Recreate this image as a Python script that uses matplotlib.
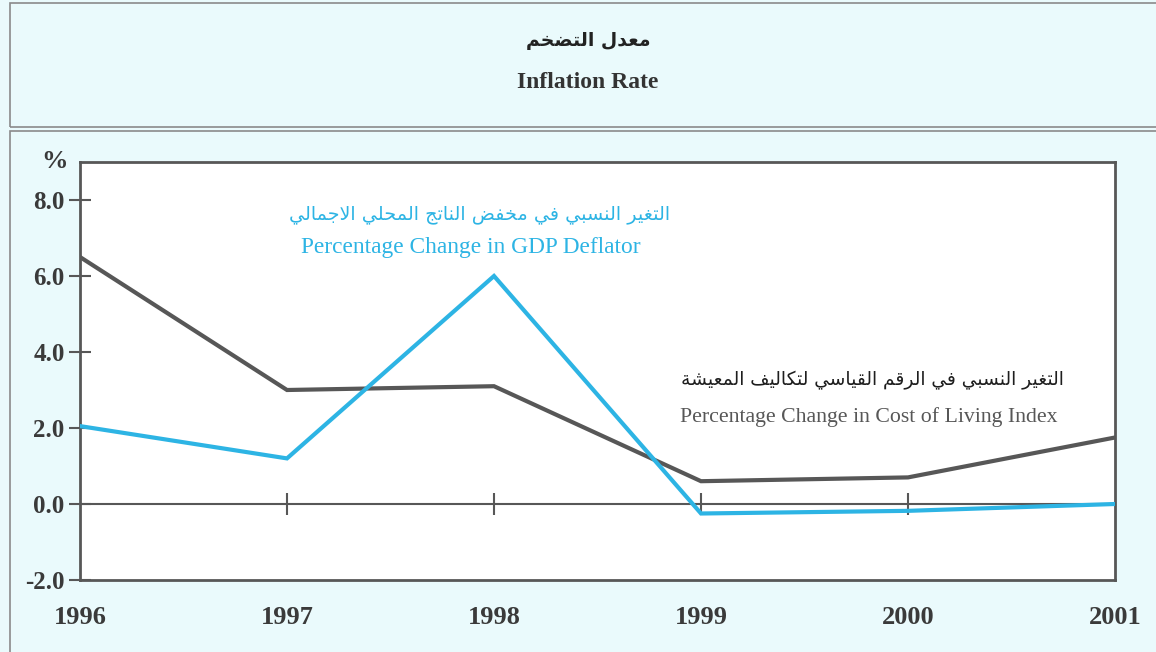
import matplotlib
matplotlib.use("Agg")
import matplotlib.pyplot as plt
from matplotlib.patches import Rectangle

years = [1996, 1997, 1998, 1999, 2000, 2001]
cost_of_living = [6.5, 3.0, 3.1, 0.6, 0.7, 1.75]
gdp_deflator = [2.05, 1.2, 6.0, -0.25, -0.18, 0.0]
y_ticks = [-2.0, 0.0, 2.0, 4.0, 6.0, 8.0]

title_ar = "معدل التضخم"
title_en = "Inflation Rate"
gdp_ar = "التغير النسبي في مخفض الناتج المحلي الاجمالي"
gdp_en = "Percentage Change in GDP Deflator"
col_ar = "التغير النسبي في الرقم القياسي لتكاليف المعيشة"
col_en = "Percentage Change in Cost of Living Index"

BG = "#eafafc"
CYAN = "#2db4e4"
GREY = "#575757"
TXT = "#3a3a3a"

# presentation forms: (isolated codepoint, number of forms)
FORMS = {
    "ا": (0xFE8D, 2), "ب": (0xFE8F, 4), "ة": (0xFE93, 2), "ت": (0xFE95, 4),
    "ج": (0xFE9D, 4), "ح": (0xFEA1, 4), "خ": (0xFEA5, 4), "د": (0xFEA9, 2),
    "ر": (0xFEAD, 2), "س": (0xFEB1, 4), "ش": (0xFEB5, 4), "ض": (0xFEBD, 4),
    "ع": (0xFEC9, 4), "غ": (0xFECD, 4), "ف": (0xFED1, 4), "ق": (0xFED5, 4),
    "ك": (0xFED9, 4), "ل": (0xFEDD, 4), "م": (0xFEE1, 4), "ن": (0xFEE5, 4),
    "ه": (0xFEE9, 4), "و": (0xFEED, 2), "ى": (0xFEEF, 2), "ي": (0xFEF1, 4),
    "LA": (0xFEFB, 2),
}


def shape(text):
    # matplotlib 3.10 has no arabic shaping, so do joining + reversal by hand
    tokens, i = [], 0
    while i < len(text):
        if text[i] == "ل" and i + 1 < len(text) and text[i + 1] == "ا":
            tokens.append("LA")
            i += 2
        else:
            tokens.append(text[i])
            i += 1
    out = []
    for k, t in enumerate(tokens):
        f = FORMS.get(t)
        if f is None:
            out.append(t)
            continue
        prev = FORMS.get(tokens[k - 1]) if k > 0 else None
        nxt = FORMS.get(tokens[k + 1]) if k + 1 < len(tokens) else None
        jp = prev is not None and prev[1] == 4
        jn = f[1] == 4 and nxt is not None
        off = 3 if (jp and jn) else 1 if jp else 2 if jn else 0
        out.append(chr(f[0] + off))
    return "".join(reversed(out))


W, H = 1156, 652
fig = plt.figure(figsize=(W / 100, H / 100), dpi=100, facecolor=BG)

# title box and chart panel frames
fig.patches.append(Rectangle((10 / W, 1 - 127 / H), 1.2, 124 / H, transform=fig.transFigure,
                             fill=False, edgecolor="#8a8a8a", linewidth=1.2))
fig.patches.append(Rectangle((10 / W, -0.1), 1.2, 1 - 131 / H + 0.1, transform=fig.transFigure,
                             fill=False, edgecolor="#8a8a8a", linewidth=1.2))

fig.text(588 / W, 1 - 40 / H, shape(title_ar), ha="center", va="center",
         family="DejaVu Sans", fontweight="bold", fontsize=13.5, color="#222222")
fig.text(588 / W, 1 - 82 / H, title_en, ha="center", va="center",
         family="Liberation Serif", fontweight="bold", fontsize=17, color="#333333")

ax = fig.add_axes([80 / W, (H - 580) / H, (1115 - 80) / W, (580 - 162) / H])
ax.set_facecolor("white")
ax.set_xlim(years[0], years[-1])
ax.set_ylim(-2, 9)

ax.axhline(0, color=GREY, linewidth=1.5, zorder=1)
ax.plot(years[1:-1], [0] * (len(years) - 2), linestyle="none", marker="|",
        markersize=16, markeredgewidth=1.5, color=GREY, zorder=1)
ax.plot(years, cost_of_living, color=GREY, linewidth=3, solid_joinstyle="miter", zorder=2)
ax.plot(years, gdp_deflator, color=CYAN, linewidth=3, solid_joinstyle="miter", zorder=3)

for s in ax.spines.values():
    s.set_color(GREY)
    s.set_linewidth(2)

ax.set_yticks(y_ticks)
ax.set_yticklabels([f"{v:.1f}" for v in y_ticks])
ax.set_xticks(years)
ax.set_xticklabels([str(y) for y in years])
ax.tick_params(axis="y", direction="inout", length=16, width=1.5, color=GREY, pad=3,
               labelsize=18, labelcolor=TXT)
ax.tick_params(axis="x", length=0, pad=19, labelsize=19, labelcolor=TXT)
for lab in ax.get_xticklabels() + ax.get_yticklabels():
    lab.set_family("Liberation Serif")
    lab.set_fontweight("bold")

ax.text(-0.012, 1.0, "%", transform=ax.transAxes, ha="right", va="center",
        family="Liberation Serif", fontweight="bold", fontsize=19, color=TXT)

ax.text(1997.93, 7.63, shape(gdp_ar), ha="center", va="center",
        family="DejaVu Sans", fontsize=13.8, color=CYAN)
ax.text(1997.89, 6.75, gdp_en, ha="center", va="center",
        family="Liberation Serif", fontsize=16.8, color=CYAN)
ax.text(1999.83, 3.25, shape(col_ar), ha="center", va="center",
        family="DejaVu Sans", fontsize=13.4, color="#1e1e1e")
ax.text(1999.81, 2.3, col_en, ha="center", va="center",
        family="Liberation Serif", fontsize=15.7, color=GREY)

fig.savefig("out.png", dpi=100, facecolor=BG)
